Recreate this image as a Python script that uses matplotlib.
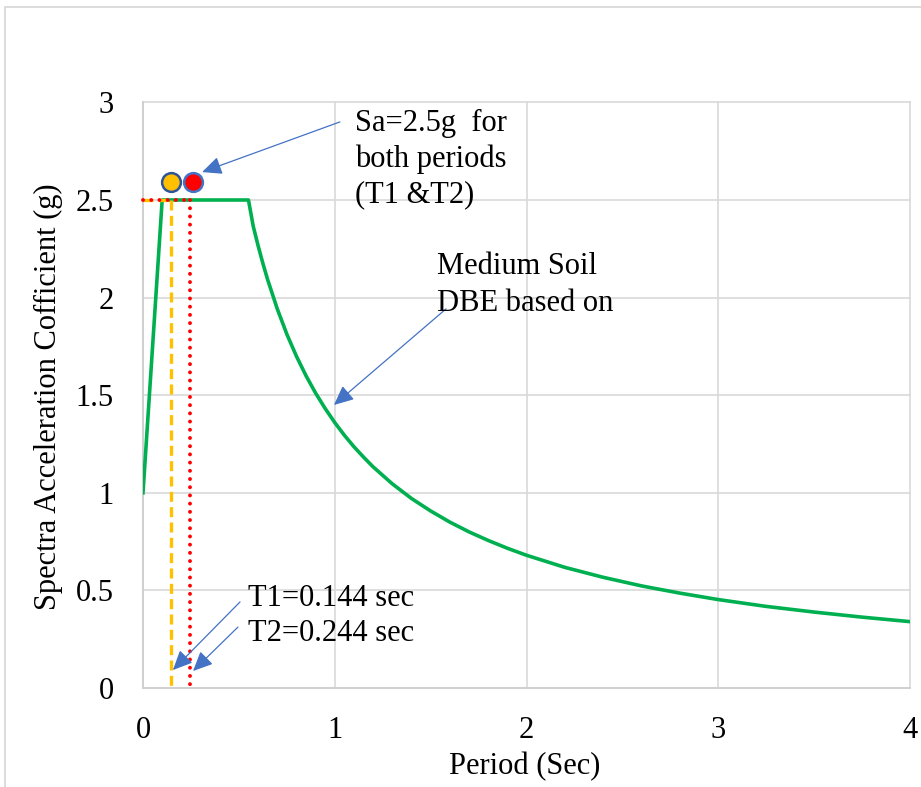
import matplotlib
matplotlib.use("Agg")
import matplotlib.pyplot as plt
from matplotlib.patches import FancyArrowPatch, Rectangle
from matplotlib.lines import Line2D
import matplotlib.transforms as mtransforms

plt.rcParams['font.family'] = ['Liberation Serif', 'DejaVu Serif']

# Design spectrum (medium soil, DBE)
period = [0.0, 0.1, 0.55, 0.575, 0.6, 0.625, 0.65, 0.7, 0.75, 0.8, 0.85, 0.9, 0.95,
          1.0, 1.05, 1.1, 1.15, 1.2, 1.3, 1.4, 1.5, 1.6, 1.7, 1.8, 1.9, 2.0, 2.2,
          2.4, 2.6, 2.8, 3.0, 3.25, 3.5, 3.75, 4.0]
sa = [1.0, 2.5, 2.5, 2.365, 2.267, 2.176, 2.092, 1.943, 1.813, 1.700, 1.600, 1.511,
      1.432, 1.360, 1.295, 1.236, 1.183, 1.133, 1.046, 0.971, 0.907, 0.850, 0.800,
      0.756, 0.716, 0.680, 0.618, 0.567, 0.523, 0.486, 0.453, 0.418, 0.389, 0.363,
      0.340]

# Building periods and the plateau value
t1 = 0.144
t2 = 0.244
sa_plateau = 2.5

x_ticks = [0, 1, 2, 3, 4]
y_ticks = [0, 0.5, 1, 1.5, 2, 2.5, 3]
x_tick_labels = ['0', '1', '2', '3', '4']
y_tick_labels = ['0', '0.5', '1', '1.5', '2', '2.5', '3']

W, H = 921, 787
fig = plt.figure(figsize=(W / 100, H / 100), dpi=100)
ax = fig.add_axes([143 / W, (H - 688) / H, 767 / W, 585.6 / H])

FS = 22
GRID = '#D9D9D9'
BLUE = '#4472C4'

ax.set_xlim(0, 4)
ax.set_ylim(0, 3)
ax.set_xticks(x_ticks)
ax.set_xticklabels(x_tick_labels)
ax.set_yticks(y_ticks)
ax.set_yticklabels(y_tick_labels)
ax.tick_params(length=0, labelsize=FS, colors='black')
ax.tick_params(axis='y', pad=21)
ax.tick_params(axis='x', pad=20)
ax.grid(True, color=GRID, linewidth=1.2)
for gl in ax.get_xgridlines() + ax.get_ygridlines():
    gl.set_clip_on(False)
ax.set_axisbelow(True)
for side in ['top', 'right']:
    ax.spines[side].set_visible(False)
for side in ['left', 'bottom']:
    ax.spines[side].set_color('#CFCFCF')
    ax.spines[side].set_linewidth(1.3)

# Spectrum curve
ax.plot(period, sa, color='#00B050', linewidth=2.6, solid_joinstyle='round', zorder=3)

# Guide lines from the plateau down to each period
dashed = dict(color='#FFC000', linewidth=2.4, linestyle=(0, (3, 1.6)),
              zorder=4, clip_on=False)
dotted = dict(color='#FF0000', linewidth=2.8, linestyle=(0, (0.01, 2.1)),
              dash_capstyle='round', zorder=5, clip_on=False)
ax.plot([0, t1], [sa_plateau, sa_plateau], **dashed)
ax.plot([t1, t1], [sa_plateau, 0], **dashed)
ax.plot([0, t2], [sa_plateau, sa_plateau], **dotted)
ax.plot([t2, t2], [sa_plateau, 0], **dotted)

# Spectral values at both periods, lifted just above the plateau line
lift1 = ax.transData + mtransforms.ScaledTranslation(0.5 / 72, 13 / 72, fig.dpi_scale_trans)
lift2 = ax.transData + mtransforms.ScaledTranslation(2.5 / 72, 13 / 72, fig.dpi_scale_trans)
ax.add_line(Line2D([t1], [sa_plateau], marker='o', markersize=13.5,
                   markerfacecolor='#FFC000', markeredgecolor='#2F5597',
                   markeredgewidth=1.8, linestyle='none', transform=lift1, zorder=6))
ax.add_line(Line2D([t2], [sa_plateau], marker='o', markersize=13.5,
                   markerfacecolor='#FF0000', markeredgecolor=BLUE,
                   markeredgewidth=1.8, linestyle='none', transform=lift2, zorder=6))

# Callout arrows
def callout(tail, tip):
    arr = FancyArrowPatch(tail, tip, arrowstyle='-|>,head_length=12,head_width=5.5',
                          color=BLUE, linewidth=0.9, mutation_scale=1,
                          shrinkA=0, shrinkB=0, zorder=7, clip_on=False)
    ax.add_patch(arr)

callout((1.027, 2.900), (0.308, 2.643))
callout((1.580, 1.942), (0.996, 1.450))
callout((0.506, 0.441), (0.156, 0.092))
callout((0.495, 0.312), (0.261, 0.087))

def fig_text(px, py, s, **kw):
    fig.text(px / W, 1 - py / H, s, fontsize=FS, color='black', **kw)

fig_text(355, 159, 'Sa=2.5g  for\nboth periods\n(T1 &T2)', ha='left', va='center',
         linespacing=1.27)
fig_text(437, 285, 'Medium Soil\nDBE based on', ha='left', va='center', linespacing=1.38)
fig_text(248, 616, 'T1=0.144 sec\nT2=0.244 sec', ha='left', va='center', linespacing=1.27)

fig_text(48, 397, 'Spectra Acceleration Cofficient (g)', ha='center', va='center',
         rotation=90)
fig_text(525, 767, 'Period (Sec)', ha='center', va='center')

# Chart frame
fig.patches.append(Rectangle((5 / W, -0.05), 1.1, 1 - 7 / H + 0.05,
                             transform=fig.transFigure, fill=False,
                             edgecolor=GRID, linewidth=1.3, zorder=0))

fig.savefig('out.png', dpi=100)
